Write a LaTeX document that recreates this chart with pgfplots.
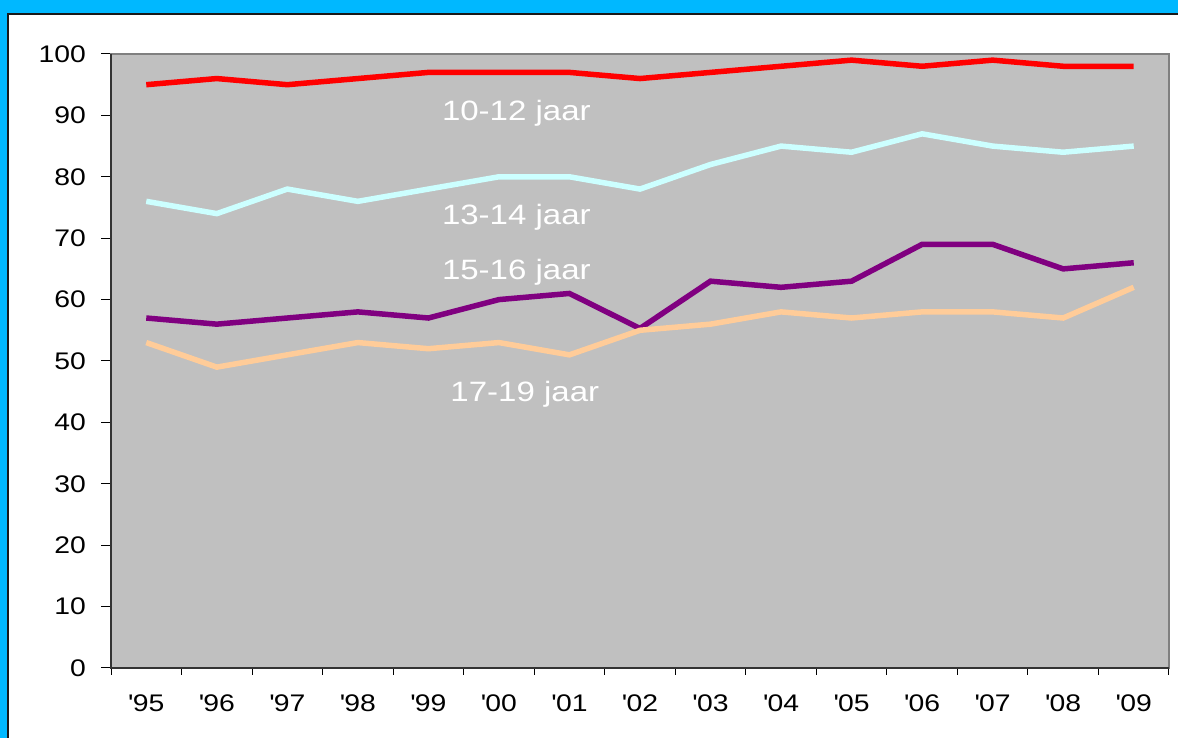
\documentclass[border=0pt]{standalone}
\usepackage{fontspec}
\setmainfont{Liberation Sans}[FakeStretch=1.18]
\usepackage{pgfplots}
\pgfplotsset{compat=1.18}

\definecolor{framecyan}{RGB}{0,184,255}
\definecolor{plotbg}{RGB}{192,192,192}
\definecolor{boxgray}{RGB}{128,128,128}
\definecolor{cRed}{RGB}{255,0,0}
\definecolor{cCyan}{RGB}{204,255,255}
\definecolor{cPurple}{RGB}{128,0,128}
\definecolor{cPeach}{RGB}{255,204,153}

\begin{document}
\begin{tikzpicture}[x=1pt,y=1pt]
\useasboundingbox (0,0) rectangle (1178,738);
\fill[framecyan] (0,0) rectangle (1178,738);
\fill[white] (8,0) rectangle (1178,724);
\draw[black!90,line width=1.5pt] (8,0) -- (8,724) -- (1178,724);

\begin{axis}[
  at={(111pt,70pt)}, anchor=south west,
  width=1058pt, height=614pt, scale only axis,
  xmin=-0.5, xmax=14.5,
  ymin=0, ymax=100,
  axis background/.style={fill=plotbg},
  axis line style={draw=boxgray, line width=2pt},
  tick align=outside,
  xtick pos=bottom, ytick pos=left,
  major tick length=10pt, minor tick length=7pt,
  tick style={black, line width=1pt},
  every major x tick/.style={draw=none},
  xtick={0,...,14},
  minor xtick={-0.5,0.5,...,14.5},
  xticklabels={\textquotesingle95,\textquotesingle96,\textquotesingle97,\textquotesingle98,\textquotesingle99,\textquotesingle00,\textquotesingle01,\textquotesingle02,\textquotesingle03,\textquotesingle04,\textquotesingle05,\textquotesingle06,\textquotesingle07,\textquotesingle08,\textquotesingle09},
  ytick={0,10,...,100},
  yticklabels={0,10,20,30,40,50,60,70,80,90,100},
  ticklabel style={font=\fontsize{24}{28}\selectfont, inner sep=0pt},
  xticklabel style={anchor=base, yshift=-33.5pt},
  yticklabel style={anchor=east, xshift=-15pt},
  clip=false,
]
\addplot[cRed, line width=5.5pt] coordinates {
(0,95) (1,96) (2,95) (3,96) (4,97) (5,97) (6,97)
(7,96) (8,97) (9,98) (10,99) (11,98) (12,99) (13,98) (14,98)};
\addplot[cCyan, line width=5.5pt] coordinates {
(0,76) (1,74) (2,78) (3,76) (4,78) (5,80) (6,80)
(7,78) (8,82) (9,85) (10,84) (11,87) (12,85) (13,84) (14,85)};
\addplot[cPurple, line width=5.5pt] coordinates {
(0,57) (1,56) (2,57) (3,58) (4,57) (5,60) (6,61)
(7,55.3) (8,63) (9,62) (10,63) (11,69) (12,69) (13,65) (14,66)};
\addplot[cPeach, line width=5.5pt] coordinates {
(0,53) (1,49) (2,51) (3,53) (4,52) (5,53) (6,51)
(7,55) (8,56) (9,58) (10,57) (11,58) (12,58) (13,57) (14,62)};

\begin{scope}[every node/.style={white, anchor=base west, inner sep=0pt, font=\fontsize{28}{32}\selectfont}]
\node at (axis cs:4.19,89.1) {10-12 jaar};
\node at (axis cs:4.19,72.15) {13-14 jaar};
\node at (axis cs:4.19,63.2) {15-16 jaar};
\node at (axis cs:4.31,43.4) {17-19 jaar};
\end{scope}
\draw[black!80, line width=1.5pt] (rel axis cs:0,1) -- (rel axis cs:0,0) -- (rel axis cs:1,0);
\end{axis}
\end{tikzpicture}
\end{document}
